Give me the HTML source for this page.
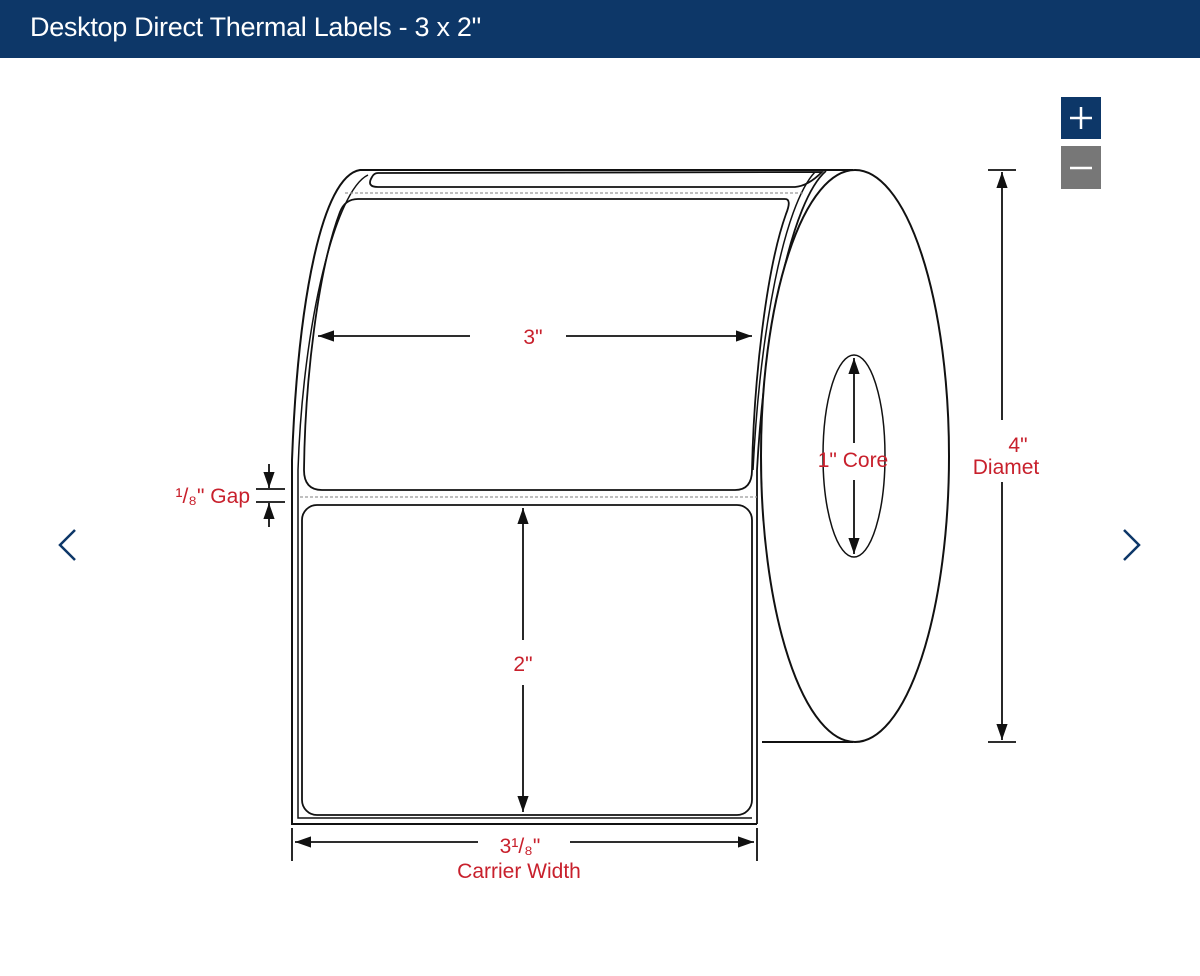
<!DOCTYPE html>
<html><head><meta charset="utf-8"><style>
html,body{margin:0;padding:0;background:#fff;width:1200px;height:976px;overflow:hidden}
.hdr{position:absolute;left:0;top:0;width:1200px;height:58px;background:#0d3768}
.hdr span{position:absolute;left:30px;top:12px;color:#fff;font:27px "Liberation Sans",sans-serif;letter-spacing:-0.3px}
svg{position:absolute;left:0;top:0}
</style></head><body>
<div class="hdr"><span>Desktop Direct Thermal Labels - 3 x 2"</span></div>
<svg width="1200" height="976" viewBox="0 0 1200 976">
<defs>
<marker id="a" viewBox="0 0 10 10" refX="10" refY="5" markerWidth="9" markerHeight="9" orient="auto-start-reverse"><path d="M0,1.5L10,5L0,8.5Z" fill="#111"/></marker>
</defs>
<g fill="none" stroke="#111" stroke-width="2">
<path d="M853,170 L360,170 C322,176 298,300 292,460 L292,824 L757,824"/>
<path d="M762,742 L853,742"/>
<path d="M378,173 L822,172 Q808,186 795,187 L378,187 Q366,187 372,177 Q374,173 378,173 Z" stroke-width="1.8"/>
<path d="M368,175 C336,190 303,320 298,470 L298,818 L752,818" stroke-width="1.5"/>
<path d="M785,199 L358,199 Q345,199 340,212 C318,270 305,380 304,470 Q304,490 322,490 L735,490 Q752,490 752,470 C754,380 766,270 786,214 Q792,199 785,199 Z" stroke-width="1.8"/>
<rect x="302" y="505" width="450" height="310" rx="15" stroke-width="1.8"/>
<path d="M826,171 C792,200 765,330 757,470 L757,824" stroke-width="1.8"/>
<path d="M815,172 C784,205 760,330 753,470" stroke-width="1.5"/>
<ellipse cx="855" cy="456" rx="94" ry="286" fill="#fff"/>
<ellipse cx="854" cy="456" rx="31" ry="101" stroke-width="1.5"/>
</g>
<g stroke="#999" stroke-width="1.2" stroke-dasharray="3,2">
<line x1="345" y1="193" x2="805" y2="193"/>
<line x1="300" y1="497" x2="757" y2="497"/>
</g>
<g stroke="#111" stroke-width="1.8" fill="none">
<line x1="318" y1="336" x2="470" y2="336" marker-start="url(#a)"/>
<line x1="566" y1="336" x2="752" y2="336" marker-end="url(#a)"/>
<line x1="523" y1="508" x2="523" y2="640" marker-start="url(#a)"/>
<line x1="523" y1="685" x2="523" y2="812" marker-end="url(#a)"/>
<line x1="292" y1="828" x2="292" y2="861"/>
<line x1="757" y1="828" x2="757" y2="861"/>
<line x1="295" y1="842" x2="478" y2="842" marker-start="url(#a)"/>
<line x1="570" y1="842" x2="754" y2="842" marker-end="url(#a)"/>
<line x1="256" y1="489" x2="285" y2="489"/>
<line x1="256" y1="502" x2="285" y2="502"/>
<line x1="269" y1="464" x2="269" y2="488" marker-end="url(#a)"/>
<line x1="269" y1="527" x2="269" y2="503" marker-end="url(#a)"/>
<line x1="988" y1="170" x2="1016" y2="170"/>
<line x1="988" y1="742" x2="1016" y2="742"/>
<line x1="1002" y1="172" x2="1002" y2="420" marker-start="url(#a)"/>
<line x1="1002" y1="482" x2="1002" y2="740" marker-end="url(#a)"/>
<line x1="854" y1="358" x2="854" y2="443" marker-start="url(#a)"/>
<line x1="854" y1="480" x2="854" y2="554" marker-end="url(#a)"/>
</g>
<g fill="#c8202c" font-family="Liberation Sans, sans-serif" font-size="21" text-anchor="middle">
<text x="533" y="344">3"</text>
<text x="523" y="671">2"</text>
<text x="520" y="853">3¹/₈"</text>
<text x="519" y="878">Carrier Width</text>
<text x="250" y="503" text-anchor="end">¹/₈" Gap</text>
<text x="853" y="467">1" Core</text>
<text x="1018" y="452">4"</text>
<text x="1006" y="474">Diamet</text>
</g>
<rect x="1061" y="97" width="40" height="42" fill="#0d3768"/>
<path d="M1070,118H1092M1081,107V129" stroke="#fff" stroke-width="2.5"/>
<rect x="1061" y="146" width="40" height="43" fill="#777"/>
<path d="M1070,168H1092" stroke="#fff" stroke-width="2.5"/>
<path d="M75,530L60,545L75,560" stroke="#0d3768" stroke-width="2.5" fill="none"/>
<path d="M1124,530L1139,545L1124,560" stroke="#0d3768" stroke-width="2.5" fill="none"/>
</svg>
</body></html>
